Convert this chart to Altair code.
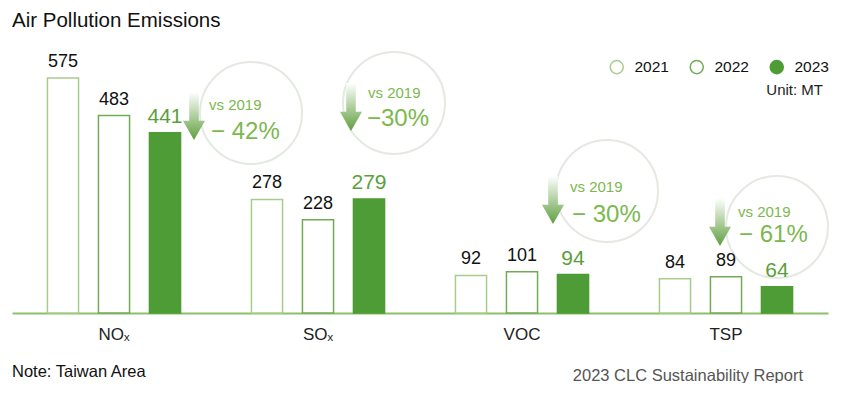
import altair as alt
import pandas as pd

# ---- data ----
categories = ["NOₓ", "SOₓ", "VOC", "TSP"]
years = ["2021", "2022", "2023"]
v2021 = [575, 278, 92, 84]
v2022 = [483, 228, 101, 89]
v2023 = [441, 279, 94, 64]
change_labels = ["− 42%", "−30%", "− 30%", "− 61%"]
compare_label = "vs 2019"

rows = []
for yr, vals in zip(years, [v2021, v2022, v2023]):
    for c, v in zip(categories, vals):
        rows.append({"category": c, "year": yr, "value": v})
df = pd.DataFrame(rows)

# callout annotation layout (pixels relative to plot origin)
OX, OY = 12, 40
circ_x = [251, 394, 607, 777]
circ_y = [113, 103, 191, 227]
arrow_x = [194, 351, 553, 720]
arrow_y = [116, 107, 200, 222]
vs_x = [209, 368, 570, 738]
vs_y = [105, 93, 187, 212]
pct_x = [211, 367, 572, 739]
pct_y = [132, 119, 215, 235]

call = pd.DataFrame({
    "cx": [v - OX for v in circ_x], "cy": [v - OY for v in circ_y],
    "ax": [v - OX for v in arrow_x], "ay": [v - OY for v in arrow_y],
    "vx": [v - OX for v in vs_x], "vy": [v - OY for v in vs_y],
    "px": [v - OX for v in pct_x], "py": [v - OY for v in pct_y],
    "vs": [compare_label] * 4, "pct": change_labels,
})

FONT = "Liberation Sans"
GREEN = "#4e9c35"
LIGHT = "#a7cd8c"
MID = "#72ab55"
TXTGREEN = "#7bb84e"

W, H = 816, 273

x_enc = alt.X("category:N", sort=categories,
              scale=alt.Scale(paddingInner=0.25, paddingOuter=0.125),
              axis=alt.Axis(title=None, labelFontSize=17, labelPadding=13, ticks=False,
                            labelAngle=0, labelColor="#222", labelFont=FONT,
                            domainColor="#8cc06d", domainWidth=2, grid=False))
xo_enc = alt.XOffset("year:N", sort=years,
                     scale=alt.Scale(paddingInner=0.39, paddingOuter=0.195))
y_enc = alt.Y("value:Q", scale=alt.Scale(domain=[0, 668]), axis=None)

base = alt.Chart(df).encode(x=x_enc, xOffset=xo_enc, y=y_enc)

bars = base.mark_bar(strokeWidth=1.5).encode(
    fill=alt.Fill("year:N", sort=years,
                  scale=alt.Scale(domain=years, range=["#ffffff", "#ffffff", GREEN]),
                  legend=alt.Legend(title=None, orient="none", legendX=597, legendY=19,
                                    direction="horizontal", columns=3, symbolType="circle",
                                    symbolSize=170, symbolStrokeWidth=1.5,
                                    labelFontSize=15.5, labelFont=FONT, labelColor="#111",
                                    labelOffset=10, columnPadding=18, padding=0)),
    stroke=alt.Stroke("year:N", sort=years,
                      scale=alt.Scale(domain=years, range=[LIGHT, MID, GREEN]),
                      legend=alt.Legend(title=None)),
)

lab_old = base.transform_filter(alt.datum.year != "2023").mark_text(
    dy=-7, baseline="bottom", fontSize=18, font=FONT, color="#111").encode(text="value:Q")
lab_new = base.transform_filter(alt.datum.year == "2023").mark_text(
    dy=-6, baseline="bottom", fontSize=21, font=FONT, color="#5a9f3c").encode(text="value:Q")

cbase = alt.Chart(call)
circles = cbase.mark_point(shape="circle", filled=False, size=102 * 102,
                           stroke="#e4e9e2", strokeWidth=2, opacity=1).encode(
    x=alt.X("cx:Q", scale=None), y=alt.Y("cy:Q", scale=None))

grad = alt.Gradient(gradient="linear",
                    stops=[alt.GradientStop(color="#ffffff", offset=0),
                           alt.GradientStop(color="#5f9f3e", offset=1)],
                    x1=0, x2=0, y1=0, y2=1)
arrow_path = "M -0.2 -1 L 0.2 -1 L 0.2 0.2 L 0.46 0.2 L 0 1 L -0.46 0.2 L -0.2 0.2 Z"
arrows = cbase.mark_point(shape=arrow_path, filled=True, size=48 * 48, color=grad,
                          opacity=1, strokeWidth=0).encode(
    x=alt.X("ax:Q", scale=None), y=alt.Y("ay:Q", scale=None))

vs_txt = cbase.mark_text(align="left", baseline="middle", fontSize=15, font=FONT,
                         color=TXTGREEN).encode(
    x=alt.X("vx:Q", scale=None), y=alt.Y("vy:Q", scale=None), text="vs:N")
pct_txt = cbase.mark_text(align="left", baseline="middle", fontSize=24, font=FONT,
                          color=TXTGREEN).encode(
    x=alt.X("px:Q", scale=None), y=alt.Y("py:Q", scale=None), text="pct:N")

def label(txt, x, y, size, color, align="left", baseline="middle"):
    return alt.Chart(pd.DataFrame({"t": [txt]})).mark_text(
        align=align, baseline=baseline, fontSize=size, font=FONT, color=color
    ).encode(x=alt.value(x - OX), y=alt.value(y - OY), text="t:N")

title = label("Air Pollution Emissions", 12, 27, 20.5, "#111", baseline="alphabetic")
unit = label("Unit: MT", 823, 90, 15, "#222", align="right")
note = label("Note: Taiwan Area", 12, 372, 16.5, "#111")
source = label("2023 CLC Sustainability Report", 803, 376, 16.5, "#555", align="right")

chart = alt.layer(circles, arrows, bars, lab_old, lab_new, vs_txt, pct_txt,
                  title, unit, note, source).properties(
    width=W, height=H,
    autosize=alt.AutoSizeParams(type="none"),
    padding={"left": 4, "top": 32, "right": 5, "bottom": 70},
).configure_view(stroke=None).resolve_scale(x="shared")

chart.save("out.html", embed_options={"renderer": "svg", "actions": False})
